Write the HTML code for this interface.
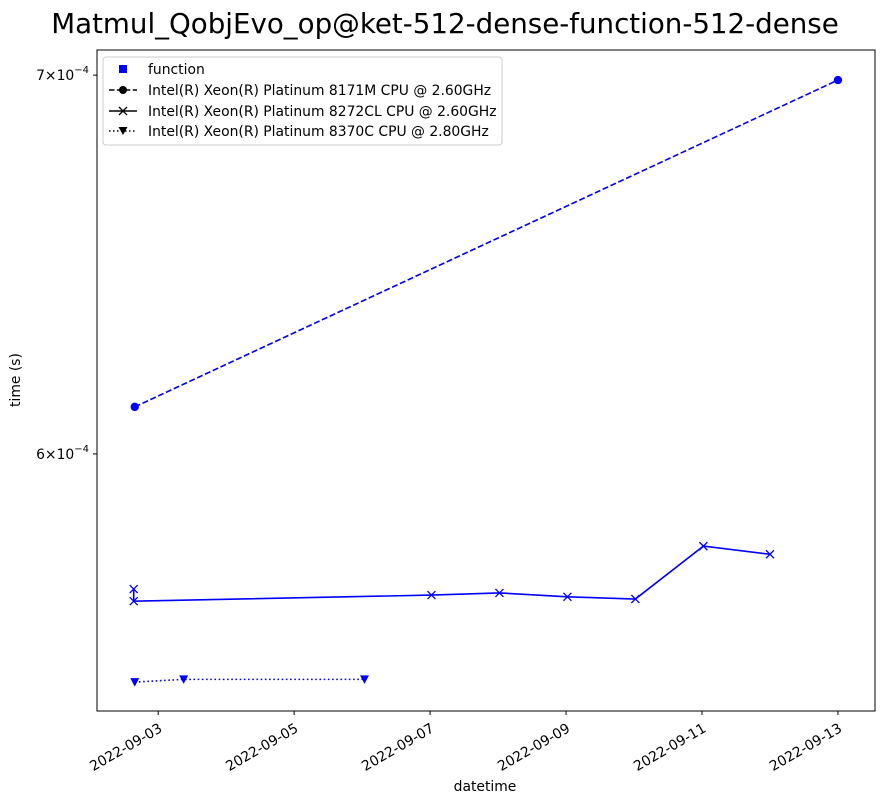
<!DOCTYPE html>
<html><head><meta charset="utf-8">
<style>
body{margin:0;background:#fff;}
svg{display:block;font-family:"DejaVu Sans","Liberation Sans",sans-serif;}
</style></head>
<body>
<svg id="chart" width="883" height="803" viewBox="0 0 883 803">
<text x="445" y="33" text-anchor="middle" font-size="27.7">Matmul_QobjEvo_op@ket-512-dense-function-512-dense</text>
<rect x="97" y="50" width="778" height="661" fill="none" stroke="#000" stroke-width="1"/>
<text x="20" y="380" text-anchor="middle" font-size="13.9" transform="rotate(-90 20 380)">time (s)</text>
<text x="485" y="791" text-anchor="middle" font-size="13.9">datetime</text>
<g id="axes"></g>
<g id="series"></g>
<g>
<rect x="103" y="57" width="399" height="88" rx="3" fill="#fff" fill-opacity="0.8" stroke="#ccc"/>
<rect x="119" y="65" width="8" height="8" fill="#0000ff"/>
<text x="148" y="74" font-size="13.9">function</text>
<line x1="109" y1="90" x2="137" y2="90" stroke="#000" stroke-width="1.5" stroke-dasharray="5.5,2.4"/>
<circle cx="123" cy="90" r="4" fill="#000"/>
<text x="148" y="95" font-size="13.9">Intel(R) Xeon(R) Platinum 8171M CPU @ 2.60GHz</text>
<line x1="109" y1="111" x2="137" y2="111" stroke="#000" stroke-width="1.5"/>
<path d="M119,107 l8,8 M127,107 l-8,8" stroke="#000" stroke-width="1.3"/>
<text x="148" y="116" font-size="13.9">Intel(R) Xeon(R) Platinum 8272CL CPU @ 2.60GHz</text>
<line x1="109" y1="131" x2="137" y2="131" stroke="#000" stroke-width="1.5" stroke-dasharray="1.5,2.5"/>
<path d="M118.5,127 h9 l-4.5,8 z" fill="#000"/>
<text x="148" y="136" font-size="13.9">Intel(R) Xeon(R) Platinum 8370C CPU @ 2.80GHz</text>
</g>
</svg>
<script>
const xTickDays=[3,5,7,9,11,13];
const xTickLabels=["2022-09-03","2022-09-05","2022-09-07","2022-09-09","2022-09-11","2022-09-13"];
const yTickValues=[6e-4,7e-4];
const yTickLabels=["6","7"];
const dates8171=[2.655,13.0];
const vals8171=[6.116e-4,6.986e-4];
const dates8272=[2.64,2.64,7.02,8.02,9.02,10.02,11.02,12.0];
const vals8272=[5.679e-4,5.651e-4,5.665e-4,5.670e-4,5.661e-4,5.656e-4,5.779e-4,5.760e-4];
const dates8370=[2.655,3.375,6.035];
const vals8370=[5.468e-4,5.474e-4,5.474e-4];

const NS="http://www.w3.org/2000/svg";
const L=97,R=875,T=50,B=711;
const x0=2.1,x1=13.545;
const yMin=5.404e-4,yMax=7.072e-4;
function xs(d){return L+(d-x0)/(x1-x0)*(R-L);}
function ys(v){return B-(Math.log(v)-Math.log(yMin))/(Math.log(yMax)-Math.log(yMin))*(B-T);}
function el(tag,attrs,parent){const e=document.createElementNS(NS,tag);for(const k in attrs)e.setAttribute(k,attrs[k]);parent.appendChild(e);return e;}
const axes=document.getElementById('axes'),ser=document.getElementById('series');
xTickDays.forEach((d,i)=>{
  const x=xs(d);
  const t=el('line',{x1:x,y1:B,x2:x,y2:B+4,stroke:'#000'},axes);
  
  
  const ax=x+5,ay=B+20;
  const tx=el('text',{x:ax,y:ay,'font-size':13.9,'text-anchor':'end',transform:`rotate(-30 ${ax} ${ay})`},axes);
  tx.textContent=xTickLabels[i];
  
  
});
yTickValues.forEach((v,i)=>{
  const y=ys(v);
  const t=el('line',{x1:L-4,y1:y,x2:L,y2:y,stroke:'#000'},axes);
  
  
  const tx=el('text',{x:L-8,y:y+5,'font-size':13.9,'text-anchor':'end'},axes);
  tx.innerHTML=yTickLabels[i]+'\u00d710<tspan dy="-7" font-size="10">\u22124</tspan>';
  
  
});
function path(ds,vs){return ds.map((d,i)=>(i?'L':'M')+xs(d)+','+ys(vs[i])).join(' ');}
const l1=el('path',{d:path(dates8171,vals8171),fill:'none',stroke:'#0000ff','stroke-width':1.6,'stroke-dasharray':'6,2.6'},ser);


dates8171.forEach((d,i)=>{const c=el('circle',{cx:xs(d),cy:ys(vals8171[i]),r:4.2,fill:'#0000ff'},ser);

});
const l2=el('path',{d:path(dates8272,vals8272),fill:'none',stroke:'#0000ff','stroke-width':1.6},ser);


dates8272.forEach((d,i)=>{const x=xs(d),y=ys(vals8272[i]);
const p=el('path',{d:`M${x-4},${y-4}L${x+4},${y+4}M${x+4},${y-4}L${x-4},${y+4}`,stroke:'#0000ff','stroke-width':1.3},ser);

});
const l3=el('path',{d:path(dates8370,vals8370),fill:'none',stroke:'#0000ff','stroke-width':1.6,'stroke-dasharray':'1.6,2.6'},ser);


dates8370.forEach((d,i)=>{const x=xs(d),y=ys(vals8370[i]);
const p=el('path',{d:`M${x-4.5},${y-4}H${x+4.5}L${x},${y+4.5}Z`,fill:'#0000ff'},ser);

});
</script>
</body></html>
